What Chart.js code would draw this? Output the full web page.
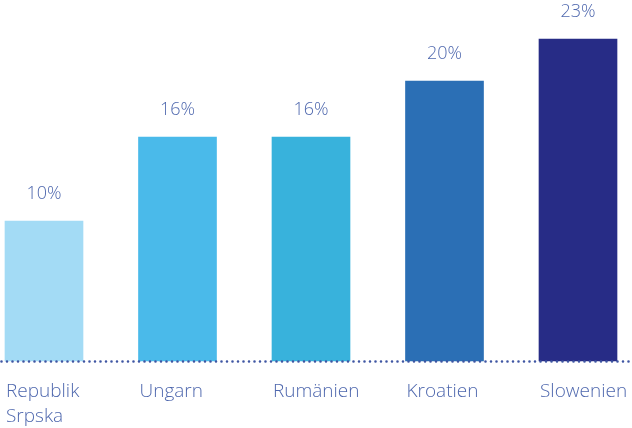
<!DOCTYPE html>
<html>
<head>
<meta charset="utf-8">
<script src="https://cdn.jsdelivr.net/npm/chart.js@4"></script>
<style>
html,body{margin:0;padding:0;background:#fff;}
#wrap{width:632px;height:428px;position:relative;}
</style>
</head>
<body>
<div id="wrap"><canvas id="c" width="632" height="428"></canvas></div>
<script>
const categories = [["Republik", "Srpska"], ["Ungarn"], ["Rumänien"], ["Kroatien"], ["Slowenien"]];
const values = [10, 16, 16, 20, 23];
const valueLabels = ["10%", "16%", "16%", "20%", "23%"];
const barColors = ["#a3dbf5", "#4abaea", "#38b2dc", "#2b6fb5", "#272c86"];

const textColor = "#4f68ae";
const fontFamily = "'Open Sans', 'Noto Sans', sans-serif";

const labelPlugin = {
  id: "customLabels",
  afterDatasetsDraw(chart) {
    const ctx = chart.ctx;
    const meta = chart.getDatasetMeta(0);
    const yScale = chart.scales.y;
    const zeroY = yScale.getPixelForValue(0);
    ctx.save();
    // dotted baseline across full width
    ctx.strokeStyle = "#3f56a3";
    ctx.lineWidth = 2.6;
    ctx.lineCap = "round";
    ctx.setLineDash([0, 5.5]);
    ctx.beginPath();
    ctx.moveTo(1.5, zeroY + 0.5);
    ctx.lineTo(chart.width, zeroY + 0.5);
    ctx.stroke();
    ctx.setLineDash([]);
    ctx.fillStyle = textColor;
    meta.data.forEach((bar, i) => {
      // value label above bar
      ctx.font = "300 18px " + fontFamily;
      ctx.textAlign = "center";
      ctx.textBaseline = "middle";
      ctx.fillText(valueLabels[i], bar.x, bar.y - 27);
      // category label below, left aligned with bar
      ctx.font = "300 19px " + fontFamily;
      ctx.textAlign = "left";
      const left = bar.x - bar.width / 2 + 1;
      categories[i].forEach((line, j) => {
        ctx.fillText(line, left, zeroY + 31 + j * 25);
      });
    });
    ctx.restore();
  }
};

new Chart(document.getElementById("c"), {
  type: "bar",
  data: {
    labels: categories.map(c => c.join(" ")),
    datasets: [{
      data: values,
      backgroundColor: barColors,
      barThickness: 78,
      clip: false
    }]
  },
  options: {
    responsive: false,
    animation: false,
    layout: { padding: { left: 44, right: 54, top: 11, bottom: 67 } },
    plugins: { legend: { display: false }, tooltip: { enabled: false } },
    scales: {
      x: {
        offset: false,
        display: false,
        grid: { display: false }
      },
      y: {
        display: false,
        min: 0,
        max: 25,
        grid: { display: false }
      }
    }
  },
  plugins: [labelPlugin]
});
</script>
</body>
</html>
